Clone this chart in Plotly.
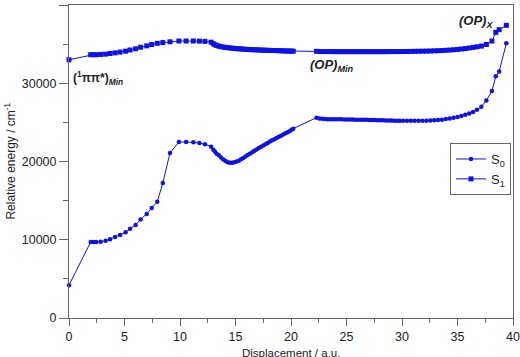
import plotly.graph_objects as go

# Displacement (a.u.) shared by both states
disp = [0, 1.95, 2.2, 2.45, 2.85, 3.3, 3.7, 4.15, 4.6, 5.1, 5.5, 6.0, 6.45, 7.0, 7.45, 7.95,
        8.45, 9.1, 9.9, 10.55, 11.2, 11.75, 12.25, 12.8,
        13.0, 13.15, 13.3, 13.5, 13.7, 13.9, 14.1, 14.3, 14.5, 14.7, 14.9, 15.1, 15.3, 15.5,
        15.7, 15.9, 16.1, 16.3, 16.5, 16.7, 16.9, 17.1, 17.3, 17.5, 17.7, 17.9, 18.1, 18.3,
        18.5, 18.7, 18.9, 19.1, 19.3, 19.5, 19.7, 19.9, 20.05, 20.2,
        22.3, 22.55, 22.8, 23.05, 23.3, 23.55, 23.8, 24.05, 24.3, 24.55, 24.8, 25.05, 25.3,
        25.55, 25.8, 26.05, 26.3, 26.55, 26.8, 27.05, 27.3, 27.55, 27.8, 28.05, 28.3, 28.55,
        28.8, 29.05, 29.3, 29.55, 29.8, 30.1, 30.45, 30.8, 31.15, 31.5, 31.85, 32.2, 32.55,
        32.9, 33.25, 33.6, 33.95, 34.3, 34.65, 35.0, 35.35, 35.7, 36.05, 36.4, 36.75, 37.15,
        37.6, 38.1, 38.45, 38.75, 39.4]

s0 = [4200, 9700, 9700, 9700, 9750, 9870, 10050, 10350, 10600, 10950, 11400, 11900, 12600,
      13300, 14050, 14850, 17250, 21100, 22500, 22500, 22450, 22350, 22200, 21900,
      21500, 21250, 21000, 20800, 20500, 20250, 20050, 19920, 19850, 19850, 19900, 20000,
      20100, 20280, 20460, 20640, 20820, 21000, 21180, 21360, 21540, 21720, 21900, 22060,
      22220, 22380, 22540, 22700, 22850, 23000, 23150, 23300, 23450, 23600, 23750, 23900,
      24050, 24200,
      25600, 25500, 25450, 25420, 25400, 25400, 25400, 25400, 25400, 25400, 25380, 25380,
      25370, 25360, 25350, 25350, 25340, 25330, 25320, 25310, 25300, 25290, 25280, 25270,
      25260, 25250, 25240, 25230, 25220, 25210, 25200, 25200, 25200, 25200, 25200, 25200,
      25210, 25220, 25230, 25260, 25300, 25350, 25420, 25500, 25600, 25700, 25820, 25960,
      26120, 26330, 26620, 27000, 27800, 29000, 30900, 31500, 35100]

s1 = [33000, 33650, 33650, 33650, 33680, 33720, 33800, 33880, 33980, 34100, 34250, 34400,
      34600, 34780, 34950, 35100, 35200, 35300, 35400, 35400, 35400, 35380, 35350, 35250,
      35050, 34930, 34830, 34740, 34670, 34620, 34580, 34550, 34510, 34480, 34450, 34420,
      34400, 34380, 34360, 34340, 34320, 34300, 34290, 34280, 34270, 34250, 34240, 34230,
      34220, 34210, 34200, 34190, 34180, 34170, 34160, 34150, 34140, 34130, 34120, 34110,
      34100, 34100,
      34080, 34060, 34050, 34050, 34050, 34050, 34040, 34040, 34040, 34040, 34040, 34040,
      34040, 34040, 34040, 34040, 34040, 34040, 34040, 34040, 34040, 34040, 34040, 34040,
      34040, 34040, 34040, 34050, 34050, 34050, 34050, 34060, 34060, 34070, 34080, 34090,
      34100, 34110, 34120, 34140, 34160, 34180, 34210, 34240, 34280, 34320, 34370, 34430,
      34500, 34580, 34660, 34750, 34950, 35400, 36500, 36850, 37400]

x_ticks = [0, 5, 10, 15, 20, 25, 30, 35, 40]
y_ticks = [0, 10000, 20000, 30000, 40000]

blue = "#1010e8"
font = "Liberation Sans, Arial, sans-serif"

fig = go.Figure()
fig.add_trace(go.Scatter(x=disp, y=s0, mode="lines+markers", name="S<sub>0</sub>",
                         line=dict(color=blue, width=1),
                         marker=dict(symbol="circle", size=4.5, color=blue),
                         cliponaxis=False))
fig.add_trace(go.Scatter(x=disp, y=s1, mode="lines+markers", name="S<sub>1</sub>",
                         line=dict(color=blue, width=1),
                         marker=dict(symbol="square", size=5, color=blue),
                         cliponaxis=False))

axis_common = dict(showline=True, mirror=True, linecolor="#666666", linewidth=1,
                   ticks="outside", tickcolor="#666666", showgrid=False,
                   zeroline=False, automargin=False,
                   tickfont=dict(family=font, size=12.5, color="#222222"))

fig.update_xaxes(range=[0, 40], tickvals=x_ticks, ticktext=[str(v) for v in x_ticks],
                 ticklen=7,
                 minor=dict(ticks="outside", ticklen=4, dtick=2.5, tickcolor="#666666"),
                 **axis_common)
fig.update_yaxes(range=[0, 40000], tickvals=y_ticks, ticktext=[str(v) for v in y_ticks],
                 ticklen=9,
                 minor=dict(ticks="outside", ticklen=5, dtick=5000, tickcolor="#666666"),
                 **axis_common)

ann_font = dict(family=font, size=12, color="#222222")
fig.add_annotation(x=0.2, y=30700, xref="x", yref="y", xanchor="left", yanchor="middle",
                   text="<b>(<sup>1</sup>ππ*)<sub><i>Min</i></sub></b>", showarrow=False,
                   font=ann_font)
fig.add_annotation(x=21.5, y=32250, xref="x", yref="y", xanchor="left", yanchor="middle",
                   text="<b><i>(OP)<sub>Min</sub></i></b>", showarrow=False,
                   font=dict(family=font, size=13, color="#222222"))
fig.add_annotation(x=34.95, y=37900, xref="x", yref="y", xanchor="left", yanchor="middle",
                   text="<b><i>(OP)<sub>X</sub></i></b>", showarrow=False,
                   font=dict(family=font, size=13, color="#222222"))

fig.add_annotation(x=0.5, y=-0.134, xref="paper", yref="paper", xanchor="center",
                   yanchor="bottom", text="Displacement / a.u.", showarrow=False,
                   borderpad=0, font=dict(family=font, size=11.5, color="#222222"))
fig.add_annotation(x=-0.135, y=0.5, xref="paper", yref="paper", xanchor="center",
                   yanchor="middle", text="Relative energy / cm<sup>-1</sup>", textangle=-90,
                   showarrow=False, font=dict(family=font, size=12, color="#222222"))

fig.update_layout(width=520, height=357, margin=dict(l=69, r=7, t=5, b=39),
                  plot_bgcolor="white", paper_bgcolor="white", showlegend=True,
                  legend=dict(x=0.9955, y=0.559, xanchor="right", yanchor="top",
                              bordercolor="#666666", borderwidth=1, bgcolor="white",
                              font=dict(family=font, size=13, color="#222222"),
                              itemwidth=30, tracegroupgap=0))

fig.write_html("out.html", config={"displayModeBar": False},
               post_script="document.body.style.margin='0';document.body.style.padding='0';")
